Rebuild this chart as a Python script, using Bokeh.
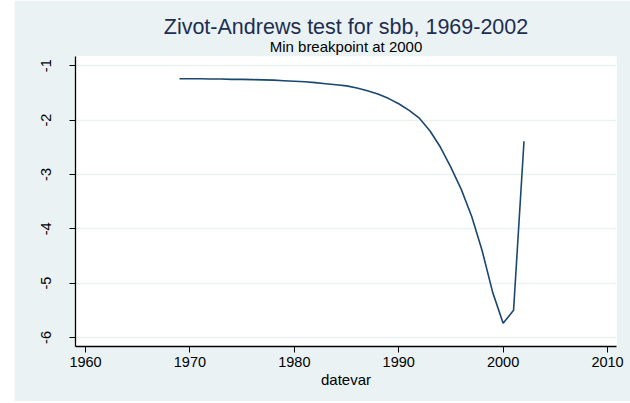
from bokeh.plotting import figure
from bokeh.models import Range1d, FixedTicker, Title
from bokeh.embed import file_html
from bokeh.resources import INLINE

# data
years = list(range(1969, 2003))
tstat = [-1.24, -1.24, -1.24, -1.245, -1.245, -1.25, -1.25, -1.255, -1.26, -1.265,
         -1.275, -1.285, -1.295, -1.31, -1.33, -1.35, -1.37, -1.41, -1.46, -1.52,
         -1.60, -1.70, -1.82, -1.97, -2.20, -2.50, -2.87, -3.28, -3.78, -4.41,
         -5.17, -5.74, -5.50, -2.39]
x_ticks = [1960, 1970, 1980, 1990, 2000, 2010]
y_ticks = [-6, -5, -4, -3, -2, -1]
title_text = "Zivot-Andrews test for sbb, 1969-2002"
subtitle_text = "Min breakpoint at 2000"
x_label = "datevar"

FONT = "Liberation Sans"
BG = "#EAF2F3"

p = figure(width=616, height=401, output_backend="svg", toolbar_location=None,
           title=None,
           x_range=Range1d(1959.04, 2010.86), y_range=Range1d(-6.166, -0.83),
           min_border_left=61, min_border_right=14, min_border_top=56,
           min_border_bottom=55,
           background_fill_color="white", border_fill_color=BG,
           outline_line_color=None)
p.margin = (0, 0, 0, 14)

sub = Title(text=subtitle_text, align="center", text_font=FONT,
            text_font_size="15px", text_font_style="normal", text_color="black",
            standoff=3, offset=0)
p.add_layout(sub, "above")
main = Title(text=title_text, align="center", text_font=FONT,
             text_font_size="21.5px", text_font_style="normal", text_color="#1E2D52",
             standoff=-9, offset=0)
p.add_layout(main, "above")

p.line(years, tstat, line_color="#1A476F", line_width=1.6)

# x axis
xa = p.xaxis[0]
xa.ticker = FixedTicker(ticks=x_ticks)
xa.minor_tick_line_color = None
xa.major_tick_in = 0
xa.major_tick_out = 6
xa.major_tick_line_color = "black"
xa.axis_line_color = "black"
xa.axis_line_width = 1.3
xa.major_label_text_font = FONT
xa.major_label_text_font_size = "14.5px"
xa.major_label_text_color = "black"
xa.major_label_standoff = 4
xa.axis_label = x_label
xa.axis_label_text_font = FONT
xa.axis_label_text_font_size = "15px"
xa.axis_label_text_font_style = "normal"
xa.axis_label_text_color = "black"
xa.axis_label_standoff = 1

# y axis
ya = p.yaxis[0]
ya.ticker = FixedTicker(ticks=y_ticks)
ya.major_label_overrides = {t: str(t) for t in y_ticks}
ya.minor_tick_line_color = None
ya.major_tick_in = 0
ya.major_tick_out = 6
ya.major_tick_line_color = "black"
ya.axis_line_color = "black"
ya.axis_line_width = 1.3
ya.major_label_orientation = "vertical"
ya.major_label_text_font = FONT
ya.major_label_text_font_size = "14.5px"
ya.major_label_text_color = "black"
ya.major_label_standoff = 18

p.xgrid.grid_line_color = None
p.ygrid.grid_line_color = BG
p.ygrid.grid_line_width = 1.5

open("out.html", "w").write(file_html(p, INLINE))
